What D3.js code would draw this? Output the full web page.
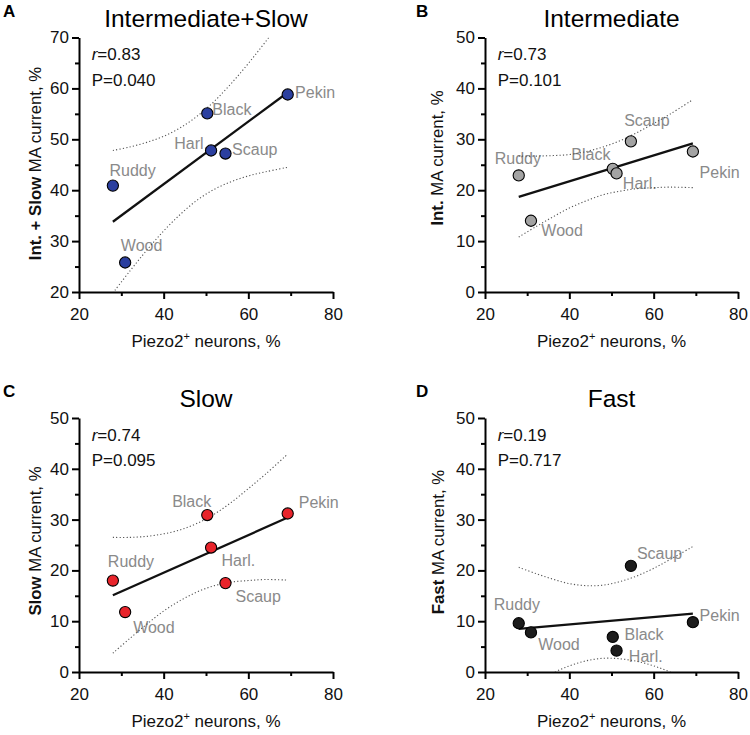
<!DOCTYPE html>
<html><head><meta charset="utf-8">
<script src="https://cdn.jsdelivr.net/npm/d3@7"></script>
<style>
body{margin:0;background:#fff;}
svg text{font-family:"Liberation Sans", Arial, Helvetica, sans-serif;}
</style></head><body>
<svg id="chart" width="750" height="735"></svg>
<script>
// ---------------- data ----------------
const species = ["Ruddy", "Wood", "Black", "Harl.", "Scaup", "Pekin"];
const piezo2 = [28.0, 30.9, 50.3, 51.2, 54.6, 69.3];          // Piezo2+ neurons, %
const intSlow = [40.9, 25.8, 55.1, 47.8, 47.2, 58.8];         // panel A
const intermediate = [22.9, 14.0, 24.2, 23.3, 29.6, 27.6];    // panel B
const slow = [18.0, 11.8, 30.9, 24.5, 17.5, 31.2];            // panel C
const fast = [9.6, 7.8, 6.9, 4.2, 20.9, 9.8];                 // panel D

const titles = ["Intermediate+Slow", "Intermediate", "Slow", "Fast"];
const panelLetters = ["A", "B", "C", "D"];
const yBoldParts = ["Int. + Slow", "Int.", "Slow", "Fast"];
const yRestPart = " MA current, %";
const rValues = ["0.83", "0.73", "0.74", "0.19"];
const pValues = ["0.040", "0.101", "0.095", "0.717"];

const xTicks = [20, 40, 60, 80];
const xMinor = [30, 50, 70];
const yTicksA = [20, 30, 40, 50, 60, 70];
const yMinorA = [25, 35, 45, 55, 65];
const yTicks = [0, 10, 20, 30, 40, 50];
const yMinor = [5, 15, 25, 35, 45];

// regression lines
const fitX = [28, 69.3];
const fitA = [33.8, 59.2];
const fitB = [18.7, 29.2];
const fitC = [15.1, 30.4];
const fitD = [8.5, 11.5];

// 95% confidence bands
const bandX = [28, 32, 36, 40, 44, 48, 52, 56, 60, 64, 69.3];
const upperA = [47.8, 48.5, 49.4, 50.6, 52.3, 54.6, 57.5, 61.0, 64.9, 69.1, 74.9];
const lowerA = [19.8, 24.1, 28.2, 32.0, 35.3, 38.1, 40.2, 41.7, 42.8, 43.6, 44.5];
const upperB = [26.7, 26.7, 26.8, 27.0, 27.6, 28.5, 29.7, 31.3, 33.1, 35.0, 37.8];
const lowerB = [10.8, 12.8, 14.7, 16.5, 17.9, 19.1, 19.8, 20.3, 20.5, 20.6, 20.5];
const upperC = [26.5, 26.5, 26.7, 27.2, 28.0, 29.3, 31.1, 33.4, 36.1, 38.9, 42.9];
const lowerC = [3.7, 6.6, 9.4, 12.0, 14.1, 15.8, 17.0, 17.7, 18.0, 18.2, 18.1];
const upperD = [20.6, 19.4, 18.3, 17.4, 17.0, 17.1, 17.8, 18.9, 20.4, 22.2, 24.7];
const lowerD = [-3.7, -1.9, -0.2, 1.2, 2.2, 2.7, 2.6, 2.1, 1.2, 0.0, -1.8];

// ---------------- layout / style ----------------
const layout = [
  {x0: 79, x1: 333, y0: 37.5, y1: 292, yLabX: 40.5, yLabY: 163.5, color: "#2b3f9f"},
  {x0: 485, x1: 738, y0: 37.5, y1: 292, yLabX: 443.3, yLabY: 158, color: "#a3a3a3"},
  {x0: 79, x1: 333, y0: 418, y1: 672, yLabX: 40.5, yLabY: 541, color: "#e8242b"},
  {x0: 485, x1: 738, y0: 418, y1: 672, yLabX: 444, yLabY: 542, color: "#1c1c1c"}
];
// label offsets [dx, dy, anchor] relative to dot centre
const labelOffsets = [
  [[-3.4,-9.3,"start"],[-4.3,-11,"start"],[5,1.6,"start"],[-3,-1,"end"],[6.6,1.3,"start"],[7.4,3.7,"start"]],
  [[-24,-11.4,"start"],[10.4,15,"start"],[-2.3,-9,"end"],[6.3,15.6,"start"],[-6.7,-15.7,"start"],[6.7,26,"start"]],
  [[-5,-13.4,"start"],[8,20.7,"start"],[4,-8.3,"end"],[10.4,18.3,"start"],[10,18.4,"start"],[11,-6,"start"]],
  [[-25,-13.3,"start"],[7.3,17.7,"start"],[11.7,3.3,"start"],[12.3,11.4,"start"],[6,-6.7,"start"],[6.7,-1.3,"start"]]
];

const seriesValues = [intSlow, intermediate, slow, fast];
const fits = [fitA, fitB, fitC, fitD];
const uppers = [upperA, upperB, upperC, upperD];
const lowers = [lowerA, lowerB, lowerC, lowerD];

const svg = d3.select("#chart");

seriesValues.forEach((vals, i) => {
  const L = layout[i];
  const isA = i === 0;
  const x = d3.scaleLinear().domain([20, 80]).range([L.x0, L.x1]);
  const y = d3.scaleLinear().domain(isA ? [20, 70] : [0, 50]).range([L.y1, L.y0]);
  const g = svg.append("g");

  // clip
  const clipId = "clip" + i;
  svg.append("clipPath").attr("id", clipId).append("rect")
    .attr("x", L.x0).attr("y", L.y0).attr("width", L.x1 - L.x0).attr("height", L.y1 - L.y0);

  // panel letter
  g.append("text").attr("x", L.x0 - 76).attr("y", L.y0 - 21)
    .attr("font-size", 17).attr("font-weight", "bold").text(panelLetters[i]);
  if (i % 2 === 1) g.select("text").attr("x", L.x0 - 69);

  // title
  g.append("text").attr("x", (L.x0 + L.x1) / 2).attr("y", L.y0 - 11)
    .attr("text-anchor", "middle").attr("font-size", 24.5).text(titles[i]);

  // axes
  const styleAxis = sel => {
    sel.selectAll("path,line").attr("stroke", "#000").attr("stroke-width", 2);
    sel.selectAll("text").attr("font-size", 17).attr("fill", "#111")
      .attr("font-family", "'Liberation Sans', Arial, sans-serif");
    sel.attr("font-family", null);
  };
  g.append("g").attr("transform", `translate(0,${L.y1})`)
    .call(d3.axisBottom(x).tickValues(xMinor).tickSize(4).tickFormat(""))
    .call(s => s.select(".domain").remove()).call(styleAxis);
  g.append("g").attr("transform", `translate(${L.x0},0)`)
    .call(d3.axisLeft(y).tickValues(isA ? yMinorA : yMinor).tickSize(4).tickFormat(""))
    .call(s => s.select(".domain").remove()).call(styleAxis);
  g.append("g").attr("transform", `translate(0,${L.y1})`)
    .call(d3.axisBottom(x).tickValues(xTicks).tickSize(7).tickPadding(9).tickSizeOuter(0))
    .call(styleAxis);
  g.append("g").attr("transform", `translate(${L.x0},0)`)
    .call(d3.axisLeft(y).tickValues(isA ? yTicksA : yTicks).tickSize(7).tickPadding(3).tickSizeOuter(0))
    .call(styleAxis);

  // x axis label
  const xl = g.append("text").attr("x", (L.x0 + L.x1) / 2).attr("y", L.y1 + 55)
    .attr("text-anchor", "middle").attr("font-size", 17).attr("fill", "#111");
  xl.append("tspan").text("Piezo2");
  xl.append("tspan").attr("font-size", 11).attr("dy", -7).text("+");
  xl.append("tspan").attr("dy", 7).text(" neurons, %");

  // y axis label
  const yl = g.append("text")
    .attr("transform", `translate(${L.yLabX},${L.yLabY}) rotate(-90)`)
    .attr("text-anchor", "middle").attr("font-size", 16.8).attr("fill", "#111");
  yl.append("tspan").attr("font-weight", "bold").text(yBoldParts[i]);
  yl.append("tspan").text(yRestPart);

  // r and P
  const rt = g.append("text").attr("x", L.x0 + 12.7).attr("y", L.y0 + 22.5).attr("font-size", 17).attr("fill", "#111");
  rt.append("tspan").attr("font-style", "italic").text("r");
  rt.append("tspan").text("=" + rValues[i]);
  g.append("text").attr("x", L.x0 + 12.7).attr("y", L.y0 + 48).attr("font-size", 17).attr("fill", "#111")
    .text("P=" + pValues[i]);

  // point labels
  g.append("g").selectAll("text").data(species).join("text")
    .attr("x", (d, k) => x(piezo2[k]) + labelOffsets[i][k][0])
    .attr("y", (d, k) => y(vals[k]) + labelOffsets[i][k][1])
    .attr("text-anchor", (d, k) => labelOffsets[i][k][2])
    .attr("font-size", 16).attr("fill", "#8a8a8a").text(d => d);

  // confidence bands
  const bandLine = arr => d3.line().x((d, k) => x(bandX[k])).y(d => y(d)).curve(d3.curveCatmullRom)(arr);
  [uppers[i], lowers[i]].forEach(arr => {
    g.append("path").attr("d", bandLine(arr)).attr("clip-path", `url(#${clipId})`)
      .attr("fill", "none").attr("stroke", "#555").attr("stroke-width", 1.1)
      .attr("stroke-dasharray", "1.2,2.2");
  });

  // regression line
  g.append("path").attr("d", d3.line().x((d, k) => x(fitX[k])).y(d => y(d))(fits[i]))
    .attr("fill", "none").attr("stroke", "#111").attr("stroke-width", 2.3);

  // dots
  g.append("g").selectAll("circle").data(vals).join("circle")
    .attr("cx", (d, k) => x(piezo2[k])).attr("cy", d => y(d)).attr("r", 5.6)
    .attr("fill", L.color).attr("stroke", "#000").attr("stroke-width", 1.1);
});
</script>
</body></html>
